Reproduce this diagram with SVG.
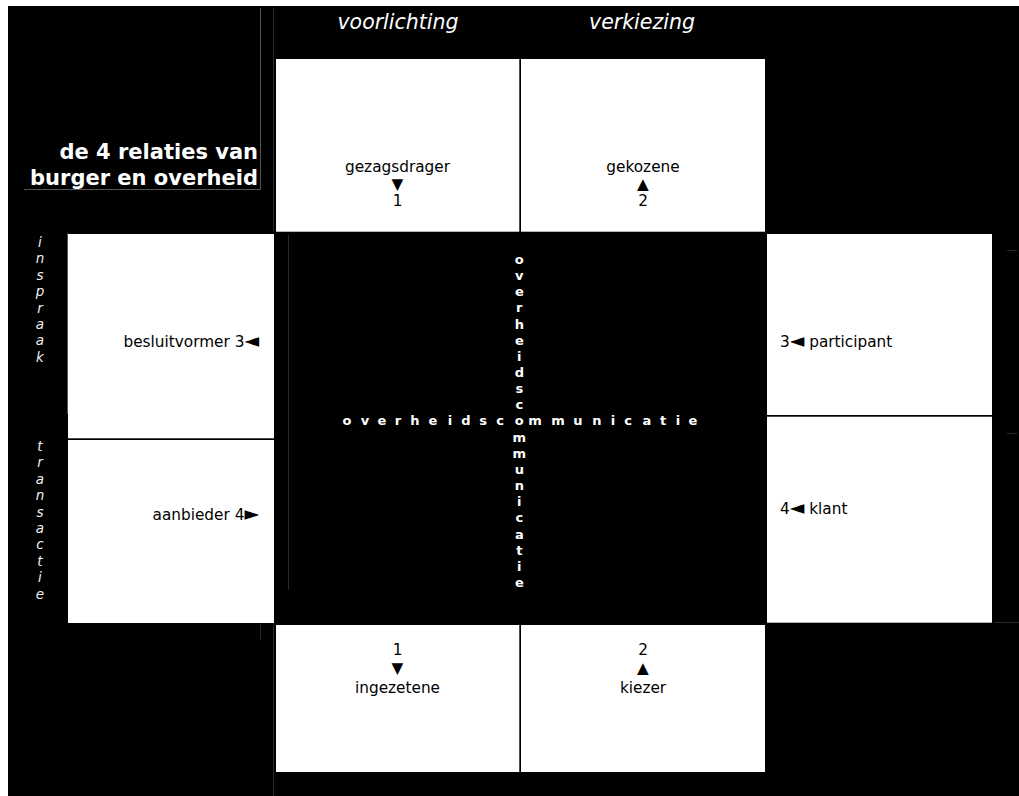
<svg xmlns="http://www.w3.org/2000/svg" width="1019" height="796" viewBox="0 0 1019 796">
<style>
.box{fill:#ffffff}
.lbl{font-family:"DejaVu Sans","Liberation Sans",sans-serif;font-size:15.3px;fill:#000}
.mid{text-anchor:middle}
.end{text-anchor:end}
.tri{font-size:19px}
.title{font-family:"DejaVu Sans","Liberation Sans",sans-serif;font-size:21px;font-weight:bold;fill:#fff;text-anchor:end}
.head{font-family:"DejaVu Sans","Liberation Sans",sans-serif;font-size:20.5px;font-style:italic;fill:#fff;text-anchor:middle}
.side{font-family:"DejaVu Sans","Liberation Sans",sans-serif;font-size:13.5px;font-style:italic;fill:#eeeeee;text-anchor:middle}
.cross{font-family:"DejaVu Sans","Liberation Sans",sans-serif;font-size:13px;font-weight:bold;fill:#fff;text-anchor:middle}
.gl{stroke:#555;stroke-width:1;fill:none}
.dl{stroke:#2a2a2a;stroke-width:1;fill:none}
</style>
<rect x="0" y="0" width="1019" height="796" fill="#fff"/>
<rect x="8" y="6" width="1011" height="790" fill="#000"/>

<g id="lines">
<line class="gl" x1="260.5" y1="8" x2="260.5" y2="189"/>
<line class="gl" x1="24" y1="189.5" x2="261" y2="189.5"/>
<line class="dl" x1="273.5" y1="8" x2="273.5" y2="231"/>
<line class="dl" x1="288.5" y1="235" x2="288.5" y2="590"/>
<line class="dl" x1="273.5" y1="625" x2="273.5" y2="796"/>
<line class="dl" x1="260.5" y1="624" x2="260.5" y2="640"/>
<line class="dl" x1="1007" y1="250.5" x2="1017" y2="250.5"/>
<line class="dl" x1="1007" y1="433.5" x2="1017" y2="433.5"/>
<line class="dl" x1="994" y1="622.5" x2="1019" y2="622.5"/>
</g>

<g id="title">
<text class="title" x="258" y="159">de 4 relaties van</text>
<text class="title" x="258" y="185">burger en overheid</text>
</g>

<g id="headers">
<text class="head" x="398" y="29">voorlichting</text>
<text class="head" x="642" y="29">verkiezing</text>
</g>

<g id="side-inspraak">
<text class="side"><tspan x="40" y="247">i</tspan><tspan x="40" y="263.4">n</tspan><tspan x="40" y="279.8">s</tspan><tspan x="40" y="296.2">p</tspan><tspan x="40" y="312.6">r</tspan><tspan x="40" y="329">a</tspan><tspan x="40" y="345.4">a</tspan><tspan x="40" y="361.8">k</tspan></text>
</g>
<g id="side-transactie">
<text class="side"><tspan x="40" y="451">t</tspan><tspan x="40" y="467.4">r</tspan><tspan x="40" y="483.8">a</tspan><tspan x="40" y="500.2">n</tspan><tspan x="40" y="516.6">s</tspan><tspan x="40" y="533">a</tspan><tspan x="40" y="549.4">c</tspan><tspan x="40" y="565.8">t</tspan><tspan x="40" y="582.2">i</tspan><tspan x="40" y="598.6">e</tspan></text>
</g>

<g id="gezagsdrager">
<rect class="box" x="276" y="59" width="243.3" height="172.7"/>
<text class="lbl mid"><tspan x="397.5" y="172">gezagsdrager</tspan><tspan x="397.5" y="189">▼</tspan><tspan x="397.5" y="205.5">1</tspan></text>
</g>
<g id="gekozene">
<rect class="box" x="521" y="59" width="244" height="172.7"/>
<text class="lbl mid"><tspan x="643" y="172">gekozene</tspan><tspan x="643" y="189">▲</tspan><tspan x="643" y="205.5">2</tspan></text>
</g>

<g id="besluitvormer">
<rect class="box" x="68" y="234" width="206" height="204.3"/>
<line class="gl" x1="67.5" y1="233" x2="67.5" y2="414"/>
<text class="lbl end" x="259" y="346.5">besluitvormer 3<tspan class="tri">◄</tspan></text>
</g>
<g id="aanbieder">
<rect class="box" x="68" y="440" width="206" height="183"/>
<text class="lbl end" x="259" y="520">aanbieder 4<tspan class="tri">►</tspan></text>
</g>

<g id="participant">
<rect class="box" x="767" y="234" width="225" height="181"/>
<text class="lbl" x="780" y="346.5">3<tspan class="tri">◄</tspan> participant</text>
</g>
<g id="klant">
<rect class="box" x="767" y="416.7" width="225" height="206"/>
<text class="lbl" x="780" y="513.5">4<tspan class="tri">◄</tspan> klant</text>
</g>

<g id="ingezetene">
<rect class="box" x="276" y="625" width="243.3" height="147"/>
<text class="lbl mid"><tspan x="397.5" y="655">1</tspan><tspan x="397.5" y="672.5">▼</tspan><tspan x="397.5" y="693">ingezetene</tspan></text>
</g>
<g id="kiezer">
<rect class="box" x="521" y="625" width="244" height="147"/>
<text class="lbl mid"><tspan x="643" y="655">2</tspan><tspan x="643" y="672.5">▲</tspan><tspan x="643" y="693">kiezer</tspan></text>
</g>

<g id="overheidscommunicatie">
<text class="cross" x="347 365 382 398 415 433 450 466 483 500 519.3 535 558 578 597 613 628 647 663 678 693" y="425">overheidscommunicatie</text>
<text class="cross"><tspan x="519.3" y="264">o</tspan><tspan x="519.3" y="280.15">v</tspan><tspan x="519.3" y="296.3">e</tspan><tspan x="519.3" y="312.45">r</tspan><tspan x="519.3" y="328.6">h</tspan><tspan x="519.3" y="344.75">e</tspan><tspan x="519.3" y="360.9">i</tspan><tspan x="519.3" y="377.05">d</tspan><tspan x="519.3" y="393.2">s</tspan><tspan x="519.3" y="409.35">c</tspan><tspan x="519.3" y="441.65">m</tspan><tspan x="519.3" y="457.8">m</tspan><tspan x="519.3" y="473.95">u</tspan><tspan x="519.3" y="490.1">n</tspan><tspan x="519.3" y="506.25">i</tspan><tspan x="519.3" y="522.4">c</tspan><tspan x="519.3" y="538.55">a</tspan><tspan x="519.3" y="554.7">t</tspan><tspan x="519.3" y="570.85">i</tspan><tspan x="519.3" y="587">e</tspan></text>
</g>
</svg>
